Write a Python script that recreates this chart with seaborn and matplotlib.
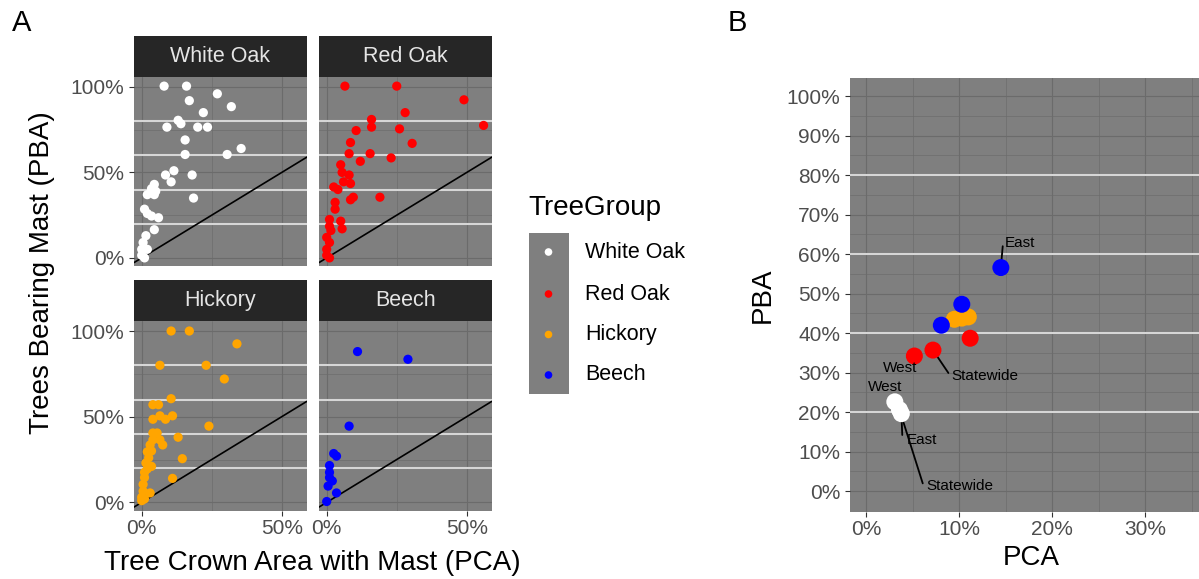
import numpy as np
import pandas as pd
import matplotlib
matplotlib.use("Agg")
import matplotlib.pyplot as plt
from matplotlib.ticker import FuncFormatter
import seaborn as sns

# ---------------------------------------------------------------- data
groups = ["White Oak", "Red Oak", "Hickory", "Beech"]
group_colors = ["#ffffff", "#ff0000", "#ffa500", "#0000ff"]

# plot-level observations: percent of tree crown area with mast (PCA)
# and percent of trees bearing mast (PBA)
white_oak_pca = [8, 16, 27, 17, 32, 22, 13, 14, 9, 20, 23.5, 15.5, 35.5, 30.5, 15.5, 11.5, 8.5, 18,
                 10.5, 4.5, 3.5, 5, 2, 4.5, 18.5, 1, 2, 3.5, 6, 4.5, 1.5, 0.5, 0, 2, 0, 1]
white_oak_pba = [100.5, 100.5, 96, 92, 88.5, 85, 80.5, 78.5, 76.5, 76.5, 76.5, 69, 64, 60.5, 60.5, 51,
                 48.5, 48.5, 44.5, 43, 40.5, 39, 37, 37, 35, 28.5, 26, 24.5, 23.5, 16.5, 13, 9, 5, 5, 1.5, 0]

red_oak_pca = [6.5, 25, 49, 28, 16, 16, 10.5, 26, 56, 8.5, 30.5, 8, 15.5, 23, 12, 5, 5.5, 8, 6, 8.5,
               2.5, 4, 19, 9.5, 8.5, 3, 3, 1, 5, 1, 5.5, 1.5, 0, 1, 0, 0, 1]
red_oak_pba = [100.5, 100.5, 92.5, 85, 81, 76.5, 74.5, 75.5, 77.5, 67.5, 67, 61, 61, 58.5, 56.5, 54.5,
               50, 48.5, 44.5, 43.5, 41.5, 40, 35.5, 35.5, 34, 32.5, 28.5, 22.5, 21.5, 18.5, 17, 16,
               12, 9, 5, 1.5, 0]

hickory_pca = [10.5, 17, 34, 6.5, 23, 29.5, 10.5, 4, 6, 6.5, 11, 4, 8.5, 24, 4, 5.5, 13, 4, 6.5, 7.5,
               3, 2, 3.5, 2.5, 14.5, 1.5, 3.5, 2, 1, 1, 11, 0.5, 0.5, 3, 0, 0, 1]
hickory_pba = [100, 100, 92.5, 80, 80, 72, 60.5, 57, 57, 50.5, 50.5, 48.5, 48.5, 44.5, 40.5, 40.5, 38,
               36.5, 36.5, 33.5, 33.5, 29.5, 30, 26, 25.5, 23, 21, 19.5, 17.5, 14.5, 14, 10.5, 6.5,
               5.5, 3, 1, 2]

beech_pca = [11, 29, 8, 2.5, 3.5, 1, 1, 1, 2, 0.5, 3.5, 0]
beech_pba = [88, 83.5, 44.5, 28.5, 27, 21.5, 17.5, 14.5, 12.5, 9.5, 5.5, 0.5]

# regional summaries
summary_group = ["White Oak"] * 3 + ["Red Oak"] * 3 + ["Hickory"] * 3 + ["Beech"] * 3
summary_region = ["West", "Statewide", "East"] * 4
summary_pca = [3.1, 3.6, 3.8, 5.2, 7.2, 11.2, 9.5, 10.3, 11.0, 8.1, 10.3, 14.5]
summary_pba = [22.6, 20.6, 19.6, 34.2, 35.7, 38.7, 43.5, 43.8, 44.1, 42.0, 47.3, 56.6]

# repelled labels: (group, region, label centre x, label centre y, leader end x, leader end y)
summary_labels = [
    ("White Oak", "West", 2.04, 26.4, 2.66, 23.9),
    ("White Oak", "East", 6.0, 12.9, 3.9, 14.2),
    ("White Oak", "Statewide", 10.1, 1.35, 6.1, 1.95),
    ("Red Oak", "West", 3.66, 31.1, None, None),
    ("Red Oak", "Statewide", 12.8, 29.1, 8.86, 29.9),
    ("Beech", "East", 16.6, 62.8, 14.7, 62.0),
]

ref_levels = [20, 40, 60, 80]

plot_df = pd.concat([
    pd.DataFrame({"TreeGroup": g, "PCA": x, "PBA": y})
    for g, x, y in [
        ("White Oak", white_oak_pca, white_oak_pba),
        ("Red Oak", red_oak_pca, red_oak_pba),
        ("Hickory", hickory_pca, hickory_pba),
        ("Beech", beech_pca, beech_pba),
    ]
], ignore_index=True)
summary_df = pd.DataFrame({"TreeGroup": summary_group, "Region": summary_region,
                           "PCA": summary_pca, "PBA": summary_pba})
palette = dict(zip(groups, group_colors))

# ---------------------------------------------------------------- style
sns.set_theme(style="white")
plt.rcParams["font.family"] = ["Liberation Sans", "DejaVu Sans"]

PANEL_BG = "#7f7f7f"
GRID = "#6b6b6b"
REF = "#d6d6d6"
STRIP_BG = "#262626"
STRIP_FG = "#e5e5e5"
TICK_FG = "#4d4d4d"
TICK_SIZE = 15
TITLE_SIZE = 20

W, H = 1199, 579
fig = plt.figure(figsize=(W / 100, H / 100), dpi=100)
fig.patch.set_facecolor("white")


def px_axes(l, t, r, b):
    return fig.add_axes([l / W, 1 - b / H, (r - l) / W, (b - t) / H])


pct = FuncFormatter(lambda v, _: f"{v:.0f}%")


def style_panel(ax, xmaj, xmin, ymaj, ymin, show_x=True, show_y=True):
    ax.set_facecolor(PANEL_BG)
    for s in ax.spines.values():
        s.set_visible(False)
    ax.set_xticks(xmaj)
    ax.set_xticks(xmin, minor=True)
    ax.set_yticks(ymaj)
    ax.set_yticks(ymin, minor=True)
    ax.xaxis.set_major_formatter(pct)
    ax.yaxis.set_major_formatter(pct)
    ax.grid(True, which="major", color=GRID, lw=0.8, zorder=0)
    ax.grid(True, which="minor", color=GRID, lw=0.45, zorder=0)
    ax.set_axisbelow(True)
    ax.tick_params(which="minor", length=0)
    ax.tick_params(axis="both", which="major", length=3.5, width=0.8, color="#333333",
                   labelcolor=TICK_FG, labelsize=TICK_SIZE, pad=2.5)
    ax.tick_params(axis="y", which="major", pad=3.5)
    ax.tick_params(axis="x", bottom=show_x, labelbottom=show_x)
    ax.tick_params(axis="y", left=show_y, labelleft=show_y)
    ax.set_xlabel("")
    ax.set_ylabel("")


# ---------------------------------------------------------------- panel A
facet_boxes = {
    "White Oak": (134, 77, 306.7, 266.5),
    "Red Oak": (319, 77, 491.7, 266.5),
    "Hickory": (134, 321, 306.7, 511),
    "Beech": (319, 321, 491.7, 511),
}
strip_h = 41

for name, (l, t, r, b) in facet_boxes.items():
    ax = px_axes(l, t, r, b)
    style_panel(ax, [0, 50], [25], [0, 50, 100], [25, 75],
                show_x=name in ("Hickory", "Beech"),
                show_y=name in ("White Oak", "Hickory"))
    for lv in ref_levels:
        ax.axhline(lv, color=REF, lw=1.5, zorder=1)
    ax.axline((0, 0), slope=1, color="black", lw=1.2, zorder=2)
    sns.scatterplot(data=plot_df[plot_df["TreeGroup"] == name], x="PCA", y="PBA",
                    color=palette[name], s=44, edgecolor="none", linewidth=0,
                    legend=False, ax=ax, zorder=3)
    ax.set_xlabel("")
    ax.set_ylabel("")
    ax.set_xlim(-2.75, 58.9)
    ax.set_ylim(-5.04, 105.84)

    sax = px_axes(l, t - strip_h, r, t)
    sax.set_facecolor(STRIP_BG)
    sax.set_xticks([])
    sax.set_yticks([])
    for s in sax.spines.values():
        s.set_visible(False)
    sax.text(0.5, 0.5, name, transform=sax.transAxes, ha="center", va="center",
             color=STRIP_FG, fontsize=15.5)

fig.text(42 / W, 1 - 273 / H, "Trees Bearing Mast (PBA)", rotation=90,
         ha="center", va="center", fontsize=TITLE_SIZE, color="black")
fig.text(312 / W, 1 - 563 / H, "Tree Crown Area with Mast (PCA)",
         ha="center", va="center", fontsize=TITLE_SIZE, color="black")
fig.text(22 / W, 1 - 23 / H, "A", ha="center", va="center", fontsize=21, color="black")

# ---------------------------------------------------------------- legend
fig.text(528 / W, 1 - 208 / H, "TreeGroup", ha="left", va="center",
         fontsize=TITLE_SIZE, color="black")
lax = px_axes(529, 233, 569, 394)
lax.set_facecolor(PANEL_BG)
for s in lax.spines.values():
    s.set_visible(False)
lax.set_xticks([])
lax.set_yticks([])
key_y = [252, 294, 334.5, 375]
legend_df = pd.DataFrame({"TreeGroup": groups, "kx": [548.5] * 4, "ky": key_y})
sns.scatterplot(data=legend_df, x="kx", y="ky", hue="TreeGroup", palette=palette,
                s=30, edgecolor="none", linewidth=0, legend=False, ax=lax)
lax.set_xlim(529, 569)
lax.set_ylim(394, 233)
lax.set_xlabel("")
lax.set_ylabel("")
for g, yk in zip(groups, key_y):
    fig.text(585 / W, 1 - yk / H, g, ha="left", va="center", fontsize=15.5, color="black")

# ---------------------------------------------------------------- panel B
bx = px_axes(850, 78, 1212, 512)
style_panel(bx, [0, 10, 20, 30], [5, 15, 25, 35],
            list(range(0, 101, 10)), list(range(5, 100, 10)))
for lv in ref_levels:
    bx.axhline(lv, color=REF, lw=1.5, zorder=1)

for grp, reg, tx, ty, ex, ey in summary_labels:
    row = summary_df[(summary_df["TreeGroup"] == grp) & (summary_df["Region"] == reg)].iloc[0]
    if ex is not None:
        bx.plot([row["PCA"], ex], [row["PBA"], ey], color="black", lw=1.3, zorder=2)
    bx.text(tx, ty, reg, ha="center", va="center", fontsize=11, color="black", zorder=4)

sns.scatterplot(data=summary_df, x="PCA", y="PBA", hue="TreeGroup", palette=palette,
                hue_order=groups, s=150, edgecolor="none", linewidth=0,
                legend=False, ax=bx, zorder=3)
bx.set_xlim(-1.72, 37.2)
bx.set_ylim(-5.3, 104.6)
bx.set_xlabel("PCA", fontsize=TITLE_SIZE, color="black", labelpad=4)
bx.set_ylabel("PBA", fontsize=TITLE_SIZE, color="black", labelpad=8)
fig.text(737 / W, 1 - 23 / H, "B", ha="center", va="center", fontsize=21, color="black")

fig.savefig("out.png", dpi=100)
